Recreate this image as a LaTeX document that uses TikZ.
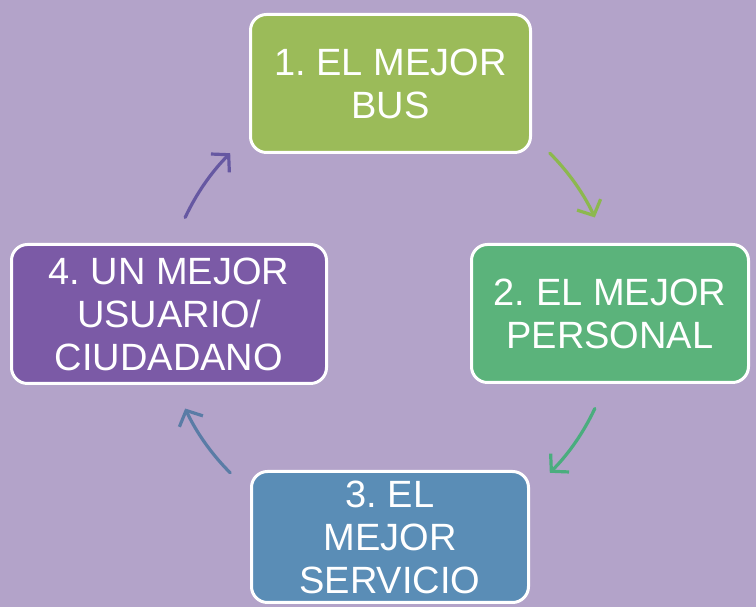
\documentclass[tikz,border=0pt]{standalone}
\usepackage{fontspec}
\setmainfont{Liberation Sans}
\usetikzlibrary{arrows.meta}
\definecolor{bgpurple}{HTML}{B3A3C9}
\definecolor{boxone}{HTML}{9BBB59}
\definecolor{boxtwo}{HTML}{5BB37B}
\definecolor{boxthree}{HTML}{5A8DB6}
\definecolor{boxfour}{HTML}{7B5AA6}
\definecolor{arrowone}{HTML}{8CB84E}
\definecolor{arrowtwo}{HTML}{4AAD7E}
\definecolor{arrowthree}{HTML}{5A7CA6}
\definecolor{arrowfour}{HTML}{6658A2}
\frenchspacing

\begin{document}
\begin{tikzpicture}[x=1pt,y=1pt,
    stage/.style={draw=white,line width=3pt,rounded corners=16pt,text=white,
        align=center,font=\fontsize{38}{43}\selectfont,inner sep=0pt,
        minimum height=138pt},
    cyc/.style={line width=3.2pt,line cap=round,
        -{Straight Barb[length=12pt,width=26pt]}}
]
    \def\rad{226}
    \fill[bgpurple] (0,0) rectangle (756,607);
    \useasboundingbox (0,0) rectangle (756,607);
    % the four stages
    \node[stage,fill=boxone,minimum width=280pt] (bus) at (390.5,523.5) {1. EL MEJOR\\BUS};
    \node[stage,fill=boxtwo,minimum width=277pt] (personal) at (610,293.5) {2. EL MEJOR\\PERSONAL};
    \node[stage,fill=boxthree,minimum width=277pt,minimum height=131pt] (servicio) at (390,70) {3. EL\\MEJOR\\SERVICIO};
    \node[stage,fill=boxfour,minimum width=315pt,minimum height=139pt] (usuario) at (169,293) {4. UN MEJOR\\USUARIO/\\CIUDADANO};
    % cycle arrows
    \coordinate (hub) at (390,294);
    \draw[cyc,arrowone] ([shift={(45:\rad)}]hub) arc[start angle=45,end angle=25,radius=\rad];
    \draw[cyc,arrowtwo] ([shift={(-25:\rad)}]hub) arc[start angle=-25,end angle=-45,radius=\rad];
    \draw[cyc,arrowthree] ([shift={(-135:\rad)}]hub) arc[start angle=-135,end angle=-155,radius=\rad];
    \draw[cyc,arrowfour] ([shift={(155:\rad)}]hub) arc[start angle=155,end angle=135,radius=\rad];
\end{tikzpicture}
\end{document}
